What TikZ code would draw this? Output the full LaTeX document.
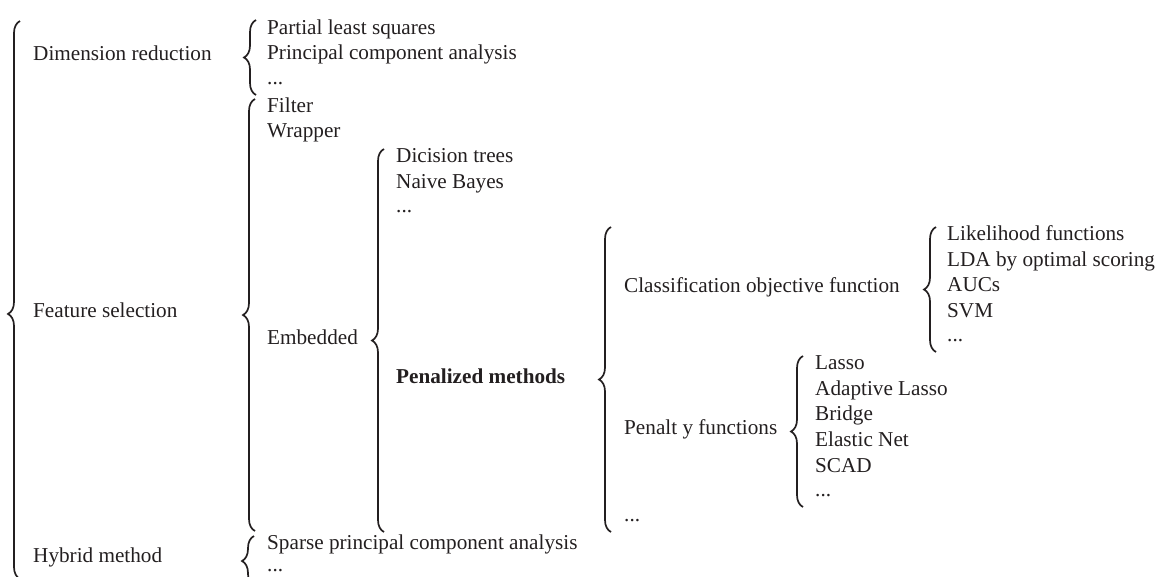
\documentclass[tikz,border=0pt]{standalone}
\usepackage{fontspec}
\setmainfont{Liberation Serif}
\usetikzlibrary{decorations.pathreplacing}
\definecolor{ink}{RGB}{35,31,32}
\begin{document}
\begin{tikzpicture}[x=1pt,y=-1pt]
  \tikzstyle{every node}=[anchor=west,inner sep=0pt,yshift=-4pt,text height=0.7em,text depth=0.02em,
                          font=\fontsize{21.2}{25.5}\selectfont,text=ink]
  \tikzstyle{curly}=[draw=ink,line width=1.7pt,decorate,decoration={brace,amplitude=12pt}]
  \useasboundingbox (0,0) rectangle (1157,576);
  \clip (0,0) rectangle (1157,576);
  % level 1
  \node (dimred) at (33,53) {Dimension reduction};
  \node (featsel) at (33,310) {Feature selection};
  \node (hybrid) at (33,555) {Hybrid method};
  % level 2
  \node (pls) at (267,27) {Partial least squares};
  \node (pca) at (267,52) {Principal component analysis};
  \node (dimdots) at (267,77) {...};
  \node (filter) at (267,105) {Filter};
  \node (wrapper) at (267,130) {Wrapper};
  \node (embedded) at (267,337) {Embedded};
  \node (spca) at (267,542) {Sparse principal component analysis};
  \node (hybdots) at (267,564) {...};
  % level 3
  \node (dtree) at (396,155) {Dicision trees};
  \node (nbayes) at (396,181) {Naive Bayes};
  \node (embdots) at (396,205) {...};
  \node (penal) at (396,376) {\bfseries Penalized methods};
  % level 4
  \node (classobj) at (624,285) {Classification objective function};
  \node (penfun) at (624,427) {Penalt y functions};
  \node (penaldots) at (624,514) {...};
  % level 5
  \node (lik) at (947,233.5) {Likelihood functions};
  \node (lda) at (947,259) {LDA by optimal scoring};
  \node (auc) at (947,284.5) {AUCs};
  \node (svm) at (947,310) {SVM};
  \node (clsdots) at (947,334) {...};
  \node (lasso) at (815,362) {Lasso};
  \node (alasso) at (815,388) {Adaptive Lasso};
  \node (bridge) at (815,413) {Bridge};
  \node (enet) at (815,439) {Elastic Net};
  \node (scad) at (815,465) {SCAD};
  \node (pendots) at (815,489) {...};
  % brace ends
  \coordinate (topT) at (20,17);    \coordinate (topB) at (20,575);
  \coordinate (dimT) at (256,16);   \coordinate (dimB) at (256,91);
  \coordinate (featT) at (255,95);  \coordinate (featB) at (255,527);
  \coordinate (hybT) at (254,532);  \coordinate (hybB) at (254,582);
  \coordinate (embT) at (384,145);  \coordinate (embB) at (384,528);
  \coordinate (penT) at (611,223);  \coordinate (penB) at (611,528);
  \coordinate (clsT) at (936,223);  \coordinate (clsB) at (936,348);
  \coordinate (pfnT) at (803,352);  \coordinate (pfnB) at (803,503);
  % braces
  \draw[curly,decoration={aspect=0.475}] (topB) -- (topT);
  \draw[curly] (dimB) -- (dimT);
  \draw[curly] (featB) -- (featT);
  \draw[curly] (hybB) -- (hybT);
  \draw[curly] (embB) -- (embT);
  \draw[curly] (penB) -- (penT);
  \draw[curly] (clsB) -- (clsT);
  \draw[curly] (pfnB) -- (pfnT);
\end{tikzpicture}
\end{document}
